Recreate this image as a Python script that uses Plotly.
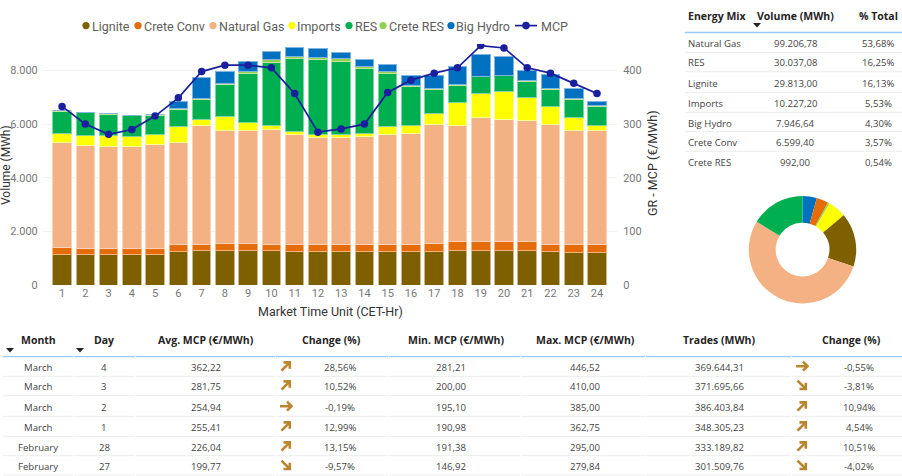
import plotly.graph_objects as go

# ---------- data ----------
hours = list(range(1, 25))
lignite = [1145,1145,1145,1145,1145,1243,1280,1290,1290,1280,1243,1243,1243,1243,1243,1243,1265,1280,1300,1300,1280,1243,1205,1205]
crete_conv = [247,235,210,223,235,249,249,276,276,249,249,249,249,249,249,274,301,324,341,341,324,286,287,287]
natural_gas = [3905,3817,3792,3792,3854,3830,4414,4178,4178,4253,4103,3991,4003,4040,4103,4127,4402,4339,4600,4514,4513,4451,4252,4252]
imports_ = [347,386,411,360,386,583,223,523,324,174,112,112,125,126,310,287,410,846,895,1044,858,659,485,199]
res = [821,833,795,784,709,648,746,1193,1814,2350,2723,2797,2698,2399,1991,1454,907,660,622,608,608,661,683,708]
crete_res = [25,24,27,26,21,37,38,60,63,94,100,98,112,88,84,65,40,41,27,18,27,40,28,29]
big_hydro = [0,0,0,0,0,236,771,436,373,317,310,339,250,247,252,357,471,667,805,679,398,493,397,146]
mcp = [333,300,281,290,315,349,398,410,410,405,357,285,291,300,359,382,395,405,446.5,442,405,395,376,357]

mix_names = ["Natural Gas","RES","Lignite","Imports","Big Hydro","Crete Conv","Crete RES"]
mix_volume = ["99.206,78","30.037,08","29.813,00","10.227,20","7.946,64","6.599,40","992,00"]
mix_pct = ["53,68%","16,25%","16,13%","5,53%","4,30%","3,57%","0,54%"]
pie_names = ["Big Hydro","Crete Conv","Crete RES","Imports","Lignite","Natural Gas","RES"]
pie_values = [7946.64,6599.40,992.00,10227.20,29813.00,99206.78,30037.08]

t_month = ["March","March","March","March","February","February"]
t_day = ["4","3","2","1","28","27"]
t_avg = ["362,22","281,75","254,94","255,41","226,04","199,77"]
t_chg1 = ["28,56%","10,52%","-0,19%","12,99%","13,15%","-9,57%"]
t_arrow1 = ["up","up","flat","up","up","down"]
t_min = ["281,21","200,00","195,10","190,98","191,38","146,92"]
t_max = ["446,52","410,00","385,00","362,75","295,00","279,84"]
t_trades = ["369.644,31","371.695,66","386.403,84","348.305,23","333.189,82","301.509,76"]
t_chg2 = ["-0,55%","-3,81%","10,94%","4,54%","10,51%","-4,02%"]
t_arrow2 = ["flat","down","up","up","up","down"]

# ---------- style ----------
W, H = 902, 476
COL = {"Lignite":"#7F6000","Crete Conv":"#E46C0A","Natural Gas":"#F4B183","Imports":"#FFFF00",
       "RES":"#00B050","Crete RES":"#92D050","Big Hydro":"#0070C0"}
EDGE = {"Lignite":"#C9B98A","Crete Conv":"#F3B27E","Natural Gas":"#F9D4BA","Imports":"#FFFF99",
        "RES":"#7FD4A3","Crete RES":"#C5E59F","Big Hydro":"#7FB5DE"}
MCP_COL = "#1A1F9E"
CHART_FONT = "Roboto"
TABLE_FONT = "Open Sans"
TXT = "#252423"
ARROW_COL = "#B8862F"

def px(x): return x / W
def py(y): return 1 - y / H

annos, shapes = [], []
def text(x, y, s, size=9.6, color=TXT, bold=False, anchor="center", family=TABLE_FONT, angle=0):
    annos.append(dict(x=px(x), y=py(y), xref="paper", yref="paper", text=f"<b>{s}</b>" if bold else s,
                      showarrow=False, xanchor=anchor, yanchor="middle", textangle=angle,
                      font=dict(family=family, size=size, color=color), borderpad=0, borderwidth=0))
def hline(x0, x1, y, color="#EDEDED", width=1):
    shapes.append(dict(type="line", xref="paper", yref="paper", x0=px(x0), x1=px(x1), y0=py(y), y1=py(y),
                       line=dict(color=color, width=width)))
def tri(x, y):
    shapes.append(dict(type="path", xref="paper", yref="paper", fillcolor=TXT, line=dict(width=0),
                       path=f"M {px(x-4)} {py(y-2)} L {px(x+4)} {py(y-2)} L {px(x)} {py(y+2.5)} Z"))
def pts(seq):
    return " ".join(("M" if i == 0 else "L") + f" {px(a)} {py(b)}" for i, (a, b) in enumerate(seq))
def arrow(x, y, kind):
    if kind == "up":
        paths = [[(x-4.5,y+4.5),(x+3.5,y-3.5)], [(x-2.5,y-3.8),(x+3.8,y-3.8),(x+3.8,y+2.5)]]
    elif kind == "down":
        paths = [[(x-4.5,y-4.5),(x+3.5,y+3.5)], [(x-2.5,y+3.8),(x+3.8,y+3.8),(x+3.8,y-2.5)]]
    else:
        paths = [[(x-6,y),(x+5,y)], [(x+1,y-4.5),(x+5.5,y),(x+1,y+4.5)]]
    for p in paths:
        shapes.append(dict(type="path", xref="paper", yref="paper", path=pts(p),
                           line=dict(color=ARROW_COL, width=2.6)))

fig = go.Figure()
series = [("Lignite",lignite),("Crete Conv",crete_conv),("Natural Gas",natural_gas),("Imports",imports_),
          ("RES",res),("Crete RES",crete_res),("Big Hydro",big_hydro)]
for name, vals in series:
    fig.add_bar(x=hours, y=vals, name=name, showlegend=False,
                marker=dict(color=COL[name], line=dict(color=EDGE[name], width=1)))
fig.add_scatter(x=hours, y=mcp, name="MCP", yaxis="y2", mode="lines+markers", showlegend=False,
                line=dict(color=MCP_COL, width=1.7), marker=dict(color=MCP_COL, size=7.5))
fig.add_pie(labels=pie_names, values=pie_values, hole=0.5, sort=False, direction="clockwise", rotation=0,
            textinfo="none", showlegend=False, marker=dict(colors=[COL[n] for n in pie_names], line=dict(width=0)),
            domain=dict(x=[px(748.8), px(856.2)], y=[py(303.4), py(196)]))

# ---------- custom legend ----------
LEG = "#605E5C"
for name, dot, tx in [("Lignite",86,92),("Crete Conv",138,144),("Natural Gas",213,219),("Imports",292,297),
                      ("RES",349,355),("Crete RES",383,389),("Big Hydro",451,456)]:
    shapes.append(dict(type="circle", xref="paper", yref="paper", fillcolor=COL[name], line=dict(width=0),
                       x0=px(dot-3.6), x1=px(dot+3.6), y0=py(25.6+3.6), y1=py(25.6-3.6)))
    text(tx, 26, name, size=12.5, color=LEG, anchor="left", family=CHART_FONT)
hline(515, 537, 25.6, MCP_COL, 1.7)
shapes.append(dict(type="circle", xref="paper", yref="paper", fillcolor=MCP_COL, line=dict(width=0),
                   x0=px(526-3.8), x1=px(526+3.8), y0=py(25.6+3.8), y1=py(25.6-3.8)))
text(541, 26, "MCP", size=12.5, color=LEG, anchor="left", family=CHART_FONT)

# ---------- axis titles ----------
text(330, 311, "Market Time Unit (CET-Hr)", 12.5, "#333333", family=CHART_FONT)
text(6, 165, "Volume (MWh)", 12, "#333333", family=CHART_FONT, angle=-90)
text(652, 163, "GR - MCP (€/MWh)", 12.5, "#333333", family=CHART_FONT, angle=-90)

# ---------- energy mix table ----------
text(688, 16, "Energy Mix", 10.5, bold=True, anchor="left")
text(795, 16, "Volume (MWh)", 10.5, bold=True)
text(878, 16, "% Total", 10.5, bold=True)
tri(757, 25)
hline(685, 902, 32.5, "#9CCBF3", 1.3)
for i, yy in enumerate([43.7,63,83.5,103.5,123.5,142.5,162.5]):
    text(688, yy, mix_names[i], anchor="left", color="#444444")
    text(795, yy, mix_volume[i], color="#444444")
    text(878, yy, mix_pct[i], color="#444444")
for yy in [52.3,71.7,92.7,112.3,131.7,151.3]:
    hline(685, 902, yy)

# ---------- daily table ----------
for x, s in [(38,"Month"),(104,"Day"),(205.5,"Avg. MCP (€/MWh)"),(331,"Change (%)"),(456,"Min. MCP (€/MWh)"),
             (585,"Max. MCP (€/MWh)"),(719,"Trades (MWh)"),(851,"Change (%)")]:
    text(x, 340, s, 10.5, bold=True)
tri(10, 350); tri(80, 350)
for x0, x1 in [(3,73),(74,135),(136,275),(276,388),(389,520),(521,645),(646,791),(792,902)]:
    hline(x0, x1, 356.7, "#9CCBF3", 1.3)
    for yy in [376.3,395.7,416.3,436.3,455.7,475]:
        hline(x0, x1, yy)
for i, yy in enumerate([367.7,386.7,407.7,427.7,447.7,466.7]):
    text(38, yy, t_month[i], color="#444444")
    text(104, yy, t_day[i], color="#444444")
    text(205.5, yy, t_avg[i], color="#444444")
    arrow(286, yy-1.5, t_arrow1[i])
    text(340, yy, t_chg1[i], color="#444444")
    text(451, yy, t_min[i], color="#444444")
    text(585, yy, t_max[i], color="#444444")
    text(719, yy, t_trades[i], color="#444444")
    arrow(802, yy-1.5, t_arrow2[i])
    text(859, yy, t_chg2[i], color="#444444")

AX = dict(family=CHART_FONT, size=11, color="#777777")
fig.update_layout(
    width=W, height=H, autosize=False, margin=dict(l=0, r=0, t=0, b=0, autoexpand=False),
    paper_bgcolor="white", plot_bgcolor="white", barmode="stack", bargap=0.2,
    separators=",.", annotations=annos, shapes=shapes, hovermode=False,
    xaxis=dict(domain=[px(43), px(617)], range=[0.18, 24.86], tickmode="array", tickvals=hours,
               showgrid=False, zeroline=False, showline=False, tickfont=AX, ticks="",
               anchor="y", automargin=False),
    yaxis=dict(domain=[py(285), py(44)], range=[0, 8988], tickmode="array",
               tickvals=[0,2000,4000,6000,8000], ticktext=["0","2.000","4.000","6.000","8.000"],
               showgrid=True, gridcolor="#F2F2F2", gridwidth=1, zeroline=False, showline=False,
               tickfont=AX, ticks="outside", ticklen=2, tickcolor="rgba(0,0,0,0)", anchor="x", automargin=False),
    yaxis2=dict(domain=[py(285), py(44)], range=[0, 449.4], overlaying="y", side="right", anchor="x",
                tickvals=[0,100,200,300,400], showgrid=False, zeroline=False, showline=False,
                tickfont=AX, ticks="outside", ticklen=3, tickcolor="rgba(0,0,0,0)", automargin=False),
)
fig.write_html("out.html", config=dict(displayModeBar=False),
               post_script="document.body.style.margin='0';document.body.style.overflow='hidden';")
